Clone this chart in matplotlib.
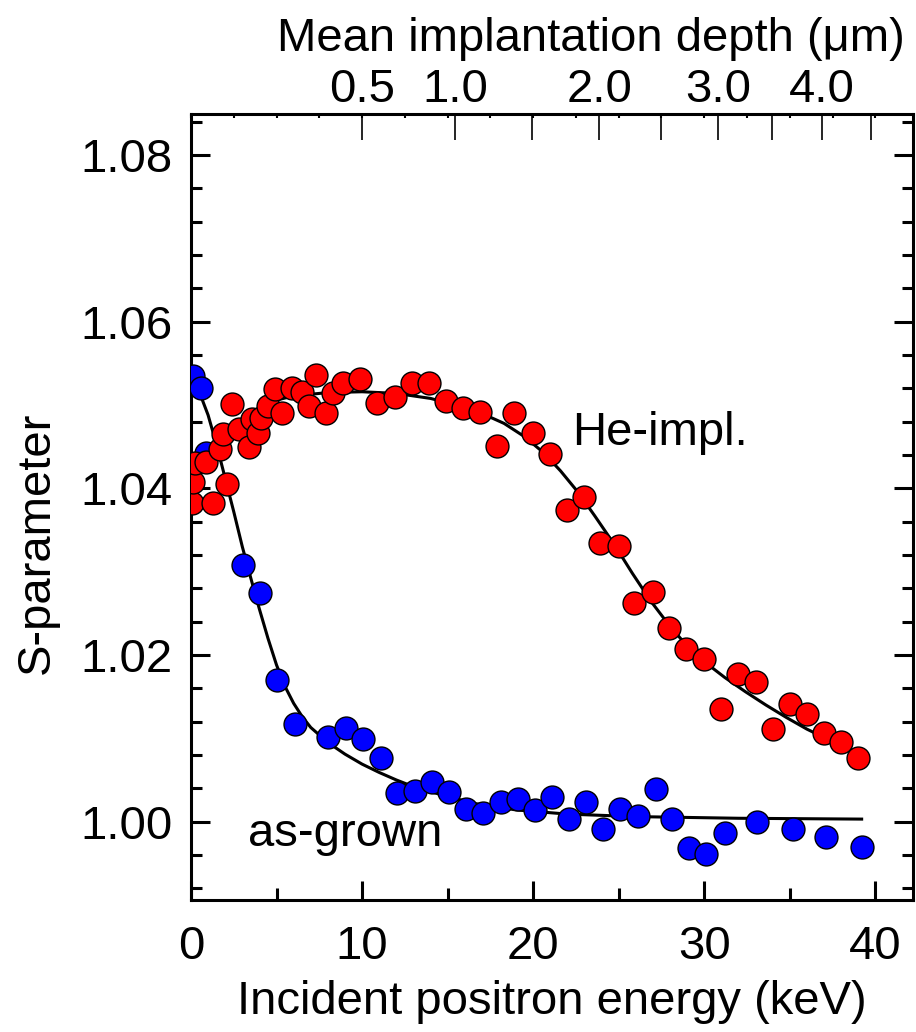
import numpy as np
import matplotlib
matplotlib.use("Agg")
from matplotlib import pyplot as plt
from matplotlib.ticker import MultipleLocator, FixedLocator, NullFormatter, FormatStrFormatter

plt.rcParams['font.family'] = ['Liberation Sans', 'DejaVu Sans']
plt.rcParams['font.size'] = 34

# He-implanted sample (red)
he_energy = [0.04, 0.14, 0.23, 0.88, 1.3, 1.7, 1.9, 2.1, 2.4, 2.8, 3.4, 3.55, 3.9, 4.1,
             4.5, 4.9, 5.3, 5.9, 6.5, 6.9, 7.3, 7.9, 8.3, 8.9, 9.9, 10.9, 11.9, 12.9,
             13.9, 14.9, 15.9, 16.9, 17.9, 18.9, 20.0, 21.0, 22.0, 22.95, 23.9, 25.0,
             25.9, 27.0, 27.95, 28.95, 30.0, 30.97, 31.95, 33.0, 34.0, 35.0, 36.0,
             37.0, 38.0, 39.0]
he_s = [1.0383, 1.0408, 1.0430, 1.0432, 1.0382, 1.0447, 1.0465, 1.0405, 1.0501, 1.0471,
        1.0450, 1.0483, 1.0466, 1.0484, 1.0499, 1.0519, 1.0490, 1.0520, 1.0516, 1.0499,
        1.0536, 1.0490, 1.0514, 1.0526, 1.0531, 1.0503, 1.0510, 1.0527, 1.0527, 1.0505,
        1.0496, 1.0492, 1.0451, 1.0490, 1.0467, 1.0441, 1.0374, 1.0390, 1.0335, 1.0331,
        1.0262, 1.0276, 1.0232, 1.0207, 1.0195, 1.0135, 1.0177, 1.0168, 1.0111, 1.0141,
        1.0129, 1.0106, 1.0095, 1.0076]

# as-grown sample (blue)
ag_energy = [0.1, 0.6, 0.85, 3.02, 4.04, 5.05, 6.08, 8.0, 9.05, 10.04, 11.1, 12.07, 13.1,
             14.08, 15.1, 16.1, 17.05, 18.1, 19.1, 20.1, 21.1, 22.1, 23.1, 24.1, 25.1,
             26.1, 27.2, 28.1, 29.1, 30.1, 31.2, 33.1, 35.2, 37.1, 39.2]
ag_s = [1.0535, 1.0521, 1.0443, 1.0308, 1.0274, 1.0170, 1.0117, 1.0102, 1.0112, 1.0099,
        1.0076, 1.0034, 1.0037, 1.0047, 1.0035, 1.0015, 1.0010, 1.0023, 1.0027, 1.0014,
        1.0030, 1.0003, 1.0024, 0.9991, 1.0015, 1.0007, 1.0039, 1.0003, 0.9968, 0.9961,
        0.9986, 1.0000, 0.9991, 0.9982, 0.9970]

# fit curves
he_fit_e = [0.3, 1.0, 2.0, 3.0, 4.0, 5.0, 6.0, 8.0, 10.0, 12.0, 14.0, 15.5, 17.0, 18.3,
            19.5, 20.6, 21.6, 22.6, 23.6, 24.7, 25.8, 26.9, 27.9, 28.9, 30.0, 31.2,
            32.4, 33.6, 34.8, 36.0, 37.5, 39.0]
he_fit_s = [1.0415, 1.0435, 1.0462, 1.0483, 1.0497, 1.0506, 1.0511, 1.0515, 1.0516,
            1.0514, 1.0508, 1.0500, 1.0490, 1.0478, 1.0462, 1.0443, 1.0421, 1.0396,
            1.0367, 1.0334, 1.0298, 1.0264, 1.0237, 1.0213, 1.0192, 1.0173, 1.0156,
            1.0140, 1.0125, 1.0111, 1.0096, 1.0082]

ag_fit_e = [0.1, 0.5, 1.0, 1.5, 2.0, 2.5, 3.0, 3.5, 4.0, 4.5, 5.0, 5.5, 6.0, 6.5, 7.0,
            8.0, 9.0, 10.0, 11.0, 12.0, 13.0, 14.5, 16.5, 19.0, 22.0, 26.0, 32.0, 39.2]
ag_fit_s = [1.0528, 1.0515, 1.0488, 1.0452, 1.0412, 1.0372, 1.0330, 1.0292, 1.0255,
            1.0220, 1.0188, 1.0162, 1.0142, 1.0126, 1.0113, 1.0095, 1.0081, 1.0069,
            1.0059, 1.0050, 1.0042, 1.0033, 1.0022, 1.0014, 1.0009, 1.0006, 1.0004,
            1.0003]

depth_major = [0.5, 1.0, 1.5, 2.0, 2.5, 3.0, 3.5, 4.0, 4.5]
depth_labels = ["0.5", "1.0", "", "2.0", "", "3.0", "", "4.0", ""]


def e2z(e):
    e = np.clip(np.asarray(e, dtype=float), 1e-6, None)
    return (e / 15.45) ** (1 / 0.628)


def z2e(z):
    z = np.clip(np.asarray(z, dtype=float), 0, None)
    return 15.45 * z ** 0.628


fig = plt.figure(figsize=(9.16, 10.32), dpi=100)
ax = fig.add_axes([0.2085, 0.128, 0.7882, 0.762])

ax.plot(he_fit_e, he_fit_s, color="black", lw=2.2, zorder=2)
ax.plot(ag_fit_e, ag_fit_s, color="black", lw=2.2, zorder=2)
ax.plot(ag_energy, ag_s, "o", ms=16.5, mfc="#0000ff", mec="black", mew=1.0, zorder=3)
ax.plot(he_energy, he_s, "o", ms=16.5, mfc="#ff0000", mec="black", mew=1.0, zorder=4)

ax.text(22.3, 1.0466, "He-impl.", va="center", ha="left")
ax.text(3.35, 0.9985, "as-grown", va="center", ha="left")

ax.set_xlim(0, 42.2)
ax.set_ylim(0.9906, 1.085)

ax.xaxis.set_major_locator(MultipleLocator(10))
ax.xaxis.set_minor_locator(MultipleLocator(5))
ax.yaxis.set_major_locator(MultipleLocator(0.02))
ax.yaxis.set_minor_locator(MultipleLocator(0.004))
ax.yaxis.set_major_formatter(FormatStrFormatter("%.2f"))

ax.tick_params(axis="both", which="both", direction="in", width=2.2)
ax.tick_params(axis="x", which="major", length=14, pad=18, top=False)
ax.tick_params(axis="x", which="minor", length=9, top=False)
ax.tick_params(axis="y", which="major", length=14, pad=13, right=True)
ax.tick_params(axis="y", which="minor", length=8, right=True)

for sp in ax.spines.values():
    sp.set_linewidth(2.2)

ax.set_xlabel("Incident positron energy (keV)", labelpad=8)
ax.set_ylabel("S-parameter")
ax.yaxis.set_label_coords(-0.183, 0.454)

# small energy ticks along the top
top_e = ax.secondary_xaxis("top")
top_e.xaxis.set_major_locator(MultipleLocator(2.5))
top_e.xaxis.set_major_formatter(NullFormatter())
top_e.tick_params(direction="in", length=3, width=1.5)

# depth scale on top
secax = ax.secondary_xaxis("top", functions=(e2z, z2e))
secax.xaxis.set_major_locator(FixedLocator(depth_major))
secax.set_xticklabels(depth_labels)
secax.xaxis.set_minor_locator(FixedLocator([]))
secax.tick_params(direction="in", length=19, width=1.2, pad=1)
secax.set_xlabel("Mean implantation depth (\u03bcm)", labelpad=12)
secax.xaxis.label.set_x(0.554)

fig.savefig("out.png", dpi=100)
